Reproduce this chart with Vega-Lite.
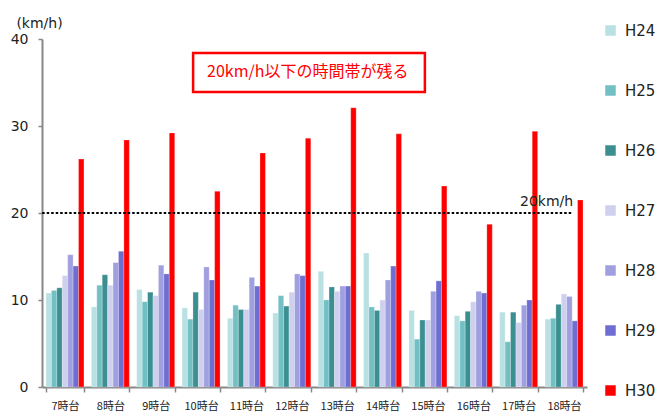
{
  "$schema": "https://vega.github.io/schema/vega-lite/v6.json",
  "autosize": "none",
  "width": 545,
  "height": 348,
  "padding": {"left": 42, "top": 39, "right": 76, "bottom": 27},
  "background": "white",
  "config": {
    "view": {"stroke": null},
    "font": "DejaVu Sans"
  },
  "layer": [
    {
      "data": {
        "values": [
          {"t": "7時台", "y": "H24", "v": 10.8}, {"t": "7時台", "y": "H25", "v": 11.1}, {"t": "7時台", "y": "H26", "v": 11.4}, {"t": "7時台", "y": "H27", "v": 12.8}, {"t": "7時台", "y": "H28", "v": 15.2}, {"t": "7時台", "y": "H29", "v": 13.9}, {"t": "7時台", "y": "H30", "v": 26.2},
          {"t": "8時台", "y": "H24", "v": 9.2}, {"t": "8時台", "y": "H25", "v": 11.7}, {"t": "8時台", "y": "H26", "v": 12.9}, {"t": "8時台", "y": "H27", "v": 11.7}, {"t": "8時台", "y": "H28", "v": 14.3}, {"t": "8時台", "y": "H29", "v": 15.6}, {"t": "8時台", "y": "H30", "v": 28.4},
          {"t": "9時台", "y": "H24", "v": 11.2}, {"t": "9時台", "y": "H25", "v": 9.8}, {"t": "9時台", "y": "H26", "v": 10.9}, {"t": "9時台", "y": "H27", "v": 10.5}, {"t": "9時台", "y": "H28", "v": 14.0}, {"t": "9時台", "y": "H29", "v": 13.0}, {"t": "9時台", "y": "H30", "v": 29.2},
          {"t": "10時台", "y": "H24", "v": 9.1}, {"t": "10時台", "y": "H25", "v": 7.8}, {"t": "10時台", "y": "H26", "v": 10.9}, {"t": "10時台", "y": "H27", "v": 8.9}, {"t": "10時台", "y": "H28", "v": 13.8}, {"t": "10時台", "y": "H29", "v": 12.3}, {"t": "10時台", "y": "H30", "v": 22.5},
          {"t": "11時台", "y": "H24", "v": 7.9}, {"t": "11時台", "y": "H25", "v": 9.4}, {"t": "11時台", "y": "H26", "v": 8.9}, {"t": "11時台", "y": "H27", "v": 8.9}, {"t": "11時台", "y": "H28", "v": 12.6}, {"t": "11時台", "y": "H29", "v": 11.6}, {"t": "11時台", "y": "H30", "v": 26.9},
          {"t": "12時台", "y": "H24", "v": 8.5}, {"t": "12時台", "y": "H25", "v": 10.5}, {"t": "12時台", "y": "H26", "v": 9.3}, {"t": "12時台", "y": "H27", "v": 10.9}, {"t": "12時台", "y": "H28", "v": 13.0}, {"t": "12時台", "y": "H29", "v": 12.8}, {"t": "12時台", "y": "H30", "v": 28.6},
          {"t": "13時台", "y": "H24", "v": 13.3}, {"t": "13時台", "y": "H25", "v": 10.0}, {"t": "13時台", "y": "H26", "v": 11.5}, {"t": "13時台", "y": "H27", "v": 11.0}, {"t": "13時台", "y": "H28", "v": 11.6}, {"t": "13時台", "y": "H29", "v": 11.6}, {"t": "13時台", "y": "H30", "v": 32.1},
          {"t": "14時台", "y": "H24", "v": 15.4}, {"t": "14時台", "y": "H25", "v": 9.2}, {"t": "14時台", "y": "H26", "v": 8.8}, {"t": "14時台", "y": "H27", "v": 10.0}, {"t": "14時台", "y": "H28", "v": 12.3}, {"t": "14時台", "y": "H29", "v": 13.9}, {"t": "14時台", "y": "H30", "v": 29.1},
          {"t": "15時台", "y": "H24", "v": 8.8}, {"t": "15時台", "y": "H25", "v": 5.5}, {"t": "15時台", "y": "H26", "v": 7.7}, {"t": "15時台", "y": "H27", "v": 7.7}, {"t": "15時台", "y": "H28", "v": 11.0}, {"t": "15時台", "y": "H29", "v": 12.2}, {"t": "15時台", "y": "H30", "v": 23.1},
          {"t": "16時台", "y": "H24", "v": 8.2}, {"t": "16時台", "y": "H25", "v": 7.6}, {"t": "16時台", "y": "H26", "v": 8.7}, {"t": "16時台", "y": "H27", "v": 9.8}, {"t": "16時台", "y": "H28", "v": 11.0}, {"t": "16時台", "y": "H29", "v": 10.8}, {"t": "16時台", "y": "H30", "v": 18.7},
          {"t": "17時台", "y": "H24", "v": 8.6}, {"t": "17時台", "y": "H25", "v": 5.2}, {"t": "17時台", "y": "H26", "v": 8.6}, {"t": "17時台", "y": "H27", "v": 7.4}, {"t": "17時台", "y": "H28", "v": 9.4}, {"t": "17時台", "y": "H29", "v": 10.0}, {"t": "17時台", "y": "H30", "v": 29.4},
          {"t": "18時台", "y": "H24", "v": 7.8}, {"t": "18時台", "y": "H25", "v": 7.9}, {"t": "18時台", "y": "H26", "v": 9.5}, {"t": "18時台", "y": "H27", "v": 10.7}, {"t": "18時台", "y": "H28", "v": 10.4}, {"t": "18時台", "y": "H29", "v": 7.6}, {"t": "18時台", "y": "H30", "v": 21.5}
        ]
      },
      "mark": {"type": "bar", "stroke": "white", "strokeWidth": 0.4, "strokeOpacity": 0.6},
      "encoding": {
        "x": {
          "field": "t", "type": "nominal", "sort": null,
          "scale": {"paddingInner": 0.163, "paddingOuter": 0.088},
          "axis": {
            "title": null, "labelAngle": 0, "labelFont": "Noto Sans CJK JP", "labelFontSize": 11,
            "labelColor": "#222", "labelPadding": 8, "domainColor": "#888", "domainWidth": 2,
            "tickColor": "#888", "tickWidth": 1.5, "tickSize": 5, "tickBand": "extent"
          }
        },
        "xOffset": {"field": "y", "type": "nominal", "scale": {"paddingInner": 0, "paddingOuter": 0}},
        "y": {
          "field": "v", "type": "quantitative",
          "scale": {"domain": [0, 40], "nice": false},
          "axis": {
            "values": [0, 10, 20, 30, 40], "grid": false, "title": "(km/h)", "titleAngle": 0,
            "titleX": -3, "titleY": -16, "titleAlign": "center", "titleBaseline": "middle",
            "titleFont": "DejaVu Sans", "titleFontSize": 14, "titleFontWeight": "normal", "titleColor": "#222",
            "labelFont": "DejaVu Sans", "labelFontSize": 14, "labelColor": "#222", "labelPadding": 10,
            "domainColor": "#888", "domainWidth": 2, "tickColor": "#888", "tickWidth": 1.5, "tickSize": 4
          }
        },
        "color": {
          "field": "y", "type": "nominal",
          "scale": {
            "domain": ["H24", "H25", "H26", "H27", "H28", "H29", "H30"],
            "range": ["#b9e0e2", "#72c0c4", "#3b8f91", "#cfd0ee", "#a09fdf", "#6e6dd1", "#ff0000"]
          },
          "legend": {
            "title": null, "orient": "none", "legendX": 561, "legendY": -16,
            "symbolType": "square", "symbolSize": 110, "symbolStrokeWidth": 0,
            "labelFont": "DejaVu Sans", "labelFontSize": 15, "labelColor": "#222", "labelOffset": 7,
            "rowPadding": 44
          }
        }
      }
    },
    {
      "data": {"values": [{}]},
      "mark": {"type": "rule", "color": "black", "strokeWidth": 2, "strokeDash": [2.5, 2]},
      "encoding": {
        "x": {"datum": "7時台", "bandPosition": -0.1},
        "x2": {"datum": "18時台", "bandPosition": 0.71},
        "y": {"datum": 20}
      }
    },
    {
      "data": {"values": [{}]},
      "mark": {"type": "text", "align": "right", "baseline": "middle", "dy": -11, "font": "DejaVu Sans", "fontSize": 14, "color": "#222"},
      "encoding": {
        "x": {"datum": "18時台", "bandPosition": 0.74},
        "y": {"datum": 20},
        "text": {"value": "20km/h"}
      }
    },
    {
      "data": {"values": [{}]},
      "mark": {"type": "rect", "fill": "white", "stroke": "#ff0000", "strokeWidth": 2.5},
      "encoding": {
        "x": {"datum": "10時台", "bandPosition": 0.29},
        "x2": {"datum": "15時台", "bandPosition": 0.42},
        "y": {"datum": 38.4},
        "y2": {"datum": 33.9}
      }
    },
    {
      "data": {"values": [{}]},
      "mark": {"type": "text", "align": "center", "baseline": "middle", "font": "Noto Sans CJK JP", "fontSize": 16, "color": "#ff0000"},
      "encoding": {
        "x": {"datum": "12時台", "bandPosition": 0.92},
        "y": {"datum": 36.15},
        "text": {"value": "20km/h以下の時間帯が残る"}
      }
    }
  ]
}
